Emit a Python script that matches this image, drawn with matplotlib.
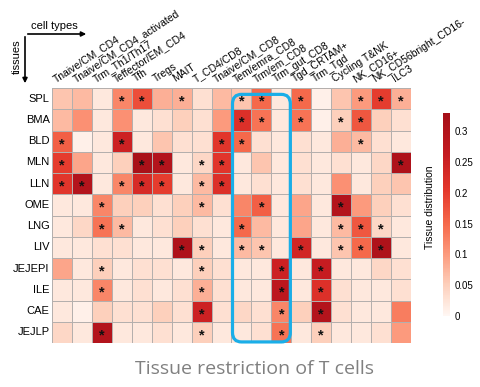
import numpy as np
import matplotlib
matplotlib.use("Agg")
import matplotlib.pyplot as plt
from matplotlib.colors import LinearSegmentedColormap
from matplotlib.patches import FancyBboxPatch, FancyArrowPatch

plt.rcParams['font.family'] = ['Liberation Sans', 'DejaVu Sans']

tissues = ["SPL", "BMA", "BLD", "MLN", "LLN", "OME", "LNG", "LIV",
           "JEJEPI", "ILE", "CAE", "JEJLP"]
cell_types = ["Tnaive/CM_CD4", "Tnaive/CM_CD4_activated", "Trm_Th1/Th17",
              "Teffector/EM_CD4", "Tfh", "Tregs", "MAIT", "T_CD4/CD8",
              "Tnaive/CM_CD8", "Tem/emra_CD8", "Trm/em_CD8", "Trm_gut_CD8",
              "Tgd_CRTAM+", "Trm_Tgd", "Cycling T&NK", "NK_CD16+",
              "NK_CD56bright_CD16-", "ILC3"]

# tissue distribution per tissue (rows) x cell type (cols)
spl = [0.06, 0.07, 0.02, 0.12, 0.18, 0.08, 0.08, 0.03, 0.07, 0.06, 0.15, 0.02, 0.15, 0.01, 0.06, 0.10, 0.20, 0.08]
bma = [0.07, 0.11, 0.02, 0.11, 0.02, 0.03, 0.05, 0.03, 0.10, 0.22, 0.14, 0.02, 0.14, 0.01, 0.05, 0.17, 0.05, 0.03]
bld = [0.16, 0.01, 0.02, 0.25, 0.02, 0.06, 0.03, 0.03, 0.21, 0.15, 0.03, 0.02, 0.03, 0.02, 0.08, 0.07, 0.03, 0.02]
mln = [0.20, 0.09, 0.02, 0.05, 0.32, 0.30, 0.02, 0.04, 0.21, 0.02, 0.06, 0.02, 0.03, 0.02, 0.03, 0.02, 0.04, 0.31]
lln = [0.21, 0.30, 0.02, 0.12, 0.23, 0.20, 0.02, 0.07, 0.22, 0.02, 0.03, 0.02, 0.03, 0.02, 0.11, 0.02, 0.05, 0.06]
ome = [0.02, 0.02, 0.12, 0.05, 0.05, 0.03, 0.05, 0.07, 0.03, 0.12, 0.16, 0.02, 0.09, 0.02, 0.30, 0.10, 0.05, 0.03]
lng = [0.02, 0.04, 0.14, 0.07, 0.02, 0.03, 0.05, 0.03, 0.02, 0.15, 0.07, 0.02, 0.09, 0.02, 0.07, 0.17, 0.04, 0.02]
liv = [0.02, 0.02, 0.03, 0.03, 0.02, 0.02, 0.31, 0.05, 0.02, 0.07, 0.06, 0.02, 0.24, 0.02, 0.06, 0.15, 0.31, 0.02]
jejepi = [0.09, 0.02, 0.05, 0.02, 0.03, 0.03, 0.02, 0.05, 0.03, 0.02, 0.02, 0.25, 0.02, 0.26, 0.02, 0.02, 0.04, 0.03]
ile = [0.02, 0.02, 0.12, 0.02, 0.03, 0.02, 0.03, 0.08, 0.03, 0.02, 0.02, 0.28, 0.02, 0.22, 0.03, 0.02, 0.02, 0.03]
cae = [0.02, 0.01, 0.05, 0.03, 0.03, 0.05, 0.03, 0.25, 0.03, 0.04, 0.03, 0.12, 0.05, 0.30, 0.03, 0.02, 0.02, 0.13]
jejlp = [0.04, 0.02, 0.30, 0.02, 0.02, 0.03, 0.02, 0.05, 0.02, 0.02, 0.03, 0.14, 0.02, 0.05, 0.02, 0.02, 0.03, 0.10]

# column indices marked with * (significant) for each tissue
stars = [
    [3, 4, 6, 9, 10, 12, 15, 16, 17],
    [9, 10, 12, 14, 15],
    [0, 3, 8, 9, 15],
    [0, 4, 5, 7, 8, 17],
    [0, 1, 3, 4, 5, 7, 8],
    [2, 7, 10, 14],
    [2, 3, 9, 14, 15, 16],
    [6, 7, 9, 10, 12, 14, 15, 16],
    [2, 7, 11, 13],
    [2, 7, 11, 13],
    [7, 11, 13],
    [2, 7, 11, 13],
]

cbar_ticks = [0, 0.05, 0.1, 0.15, 0.2, 0.25, 0.3]
highlight = ["Tem/emra_CD8", "Trm_gut_CD8"]

data = np.array([spl, bma, bld, mln, lln, ome, lng, liv, jejepi, ile, cae, jejlp])
vmax = 0.33

cmap = LinearSegmentedColormap.from_list("tissue", [
    (0.0, "#fff7f3"), (0.15, "#fdd0bc"), (0.3, "#fc9b7e"), (0.45, "#f66a4c"),
    (0.62, "#e4382c"), (0.8, "#c41a20"), (1.0, "#a50f18")])

fig = plt.figure(figsize=(4.81, 3.87), dpi=100)
ax = fig.add_axes([52 / 481, 1 - 343 / 387, 359 / 481, 255 / 387])
mesh = ax.pcolormesh(np.arange(len(cell_types) + 1), np.arange(len(tissues) + 1), data,
                     cmap=cmap, vmin=0, vmax=vmax, edgecolors="#b4afad", linewidth=0.7)
ax.set_xlim(0, len(cell_types))
ax.set_ylim(len(tissues), 0)
ax.set_xticks([])
ax.set_yticks([])
for s in ax.spines.values():
    s.set_visible(False)

for i, name in enumerate(tissues):
    ax.text(-0.12, i + 0.5, name, ha="right", va="center", fontsize=8)
    for j in stars[i]:
        ax.text(j + 0.5, i + 0.64, "*", ha="center", va="center", fontsize=10.5,
                fontweight="bold", color="#111111")

for j, name in enumerate(cell_types):
    ax.text(j + 0.25, -0.18, name, ha="left", va="bottom", rotation=33,
            rotation_mode="anchor", fontsize=7.5, clip_on=False)

# blue frame around the CD8 memory columns
j0 = cell_types.index(highlight[0])
j1 = cell_types.index(highlight[1]) + 1
box = FancyBboxPatch((j0 + 0.05, 0.3), j1 - j0 - 0.1, len(tissues) - 0.35,
                     boxstyle="round,pad=0,rounding_size=0.45",
                     fill=False, edgecolor="#1aaee8", linewidth=2.3,
                     clip_on=False, mutation_aspect=1.0)
ax.add_patch(box)

# colorbar
cax = fig.add_axes([443 / 481, 1 - 316 / 387, 7 / 481, 203 / 387])
cb = fig.colorbar(mesh, cax=cax, ticks=cbar_ticks)
cb.outline.set_visible(False)
cax.tick_params(length=0, labelsize=7, pad=3)
cax.set_yticklabels([f"{t:g}" for t in cbar_ticks])
fig.text(430 / 481, 1 - 207 / 387, "Tissue distribution", rotation=90,
         ha="center", va="center", fontsize=7.5)

# axis direction arrows
fig.add_artist(FancyArrowPatch(
    (25 / 481, 1 - 34 / 387), (89 / 481, 1 - 34 / 387), transform=fig.transFigure,
    arrowstyle="-|>", mutation_scale=7, linewidth=1.2, color="black"))
fig.add_artist(FancyArrowPatch(
    (25 / 481, 1 - 34 / 387), (25 / 481, 1 - 86 / 387), transform=fig.transFigure,
    arrowstyle="-|>", mutation_scale=7, linewidth=1.2, color="black"))
fig.text(54 / 481, 1 - 26 / 387, "cell types", ha="center", va="center", fontsize=8)
fig.text(17 / 481, 1 - 57 / 387, "tissues", ha="center", va="center",
         rotation=90, fontsize=8)

fig.text(255 / 481, 1 - 369 / 387, "Tissue restriction of T cells", ha="center",
         va="center", fontsize=14, color="#808080", family="Open Sans")

fig.savefig("out.png", dpi=100)
